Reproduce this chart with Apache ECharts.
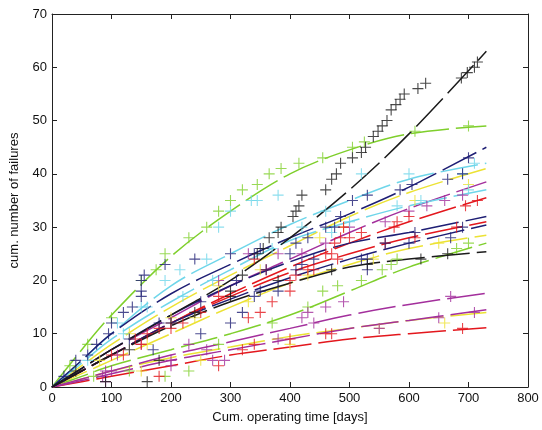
<!DOCTYPE html>
<html>
<head>
<meta charset="utf-8">
<script src="https://cdn.jsdelivr.net/npm/echarts@6/dist/echarts.min.js"></script>
<style>
  html, body { margin: 0; padding: 0; background: #fff; }
  #chart { width: 542px; height: 430px; }
</style>
</head>
<body>
<div id="chart"></div>
<script>
// Cumulative failures per unit vs. cumulative operating time, with fitted growth curves.
const fitDays = [0, 50, 100, 200, 300, 400, 500, 600, 730];

const xTicks = [0, 100, 200, 300, 400, 500, 600, 700, 800];
const yTicks = [0, 10, 20, 30, 40, 50, 60, 70];

// Fitted curves (values at fitDays)
const fitBlackA   = [0, 3.5, 7, 13.5, 20, 28, 37, 47.5, 63];
const fitGreenA   = [0, 7, 13.5, 24.5, 33, 40, 44.5, 47.5, 49];
const fitNavyA    = [0, 5, 10, 17.5, 23, 28, 32.5, 37.5, 45];
const fitCyanA    = [0, 5, 10, 19, 25, 30.5, 35, 39, 42];
const fitYellowA  = [0, 4, 8, 15, 21, 26.5, 32, 36.5, 41];
const fitMagentaA = [0, 3.5, 7, 13, 19, 24, 29, 33.5, 38.5];
const fitCyanB    = [0, 4.5, 9, 16, 22, 27.5, 31, 34, 37];
const fitRedA     = [0, 3, 6, 12, 17.5, 22.5, 27, 31, 35.5];
const fitNavyB    = [0, 3.5, 7, 13.5, 19, 23.5, 27, 29, 32];
const fitRedB     = [0, 3, 6, 12, 17, 21.5, 25, 28, 31];
const fitNavyC    = [0, 3, 6, 12, 16.5, 20.5, 24, 27, 30.4];
const fitYellowB  = [0, 2.5, 5, 10, 15, 19.5, 23, 26, 28.5];
const fitGreenB   = [0, 2, 4, 7, 10, 13.5, 18, 22.5, 27];
const fitBlackB   = [0, 3, 6, 11.5, 16, 19.5, 22.5, 24, 25.4];
const fitMagentaB = [0, 1.5, 3, 6, 8.5, 11, 13.5, 15.5, 17.6];
const fitMagentaC = [0, 1.2, 2.5, 5, 7, 9, 11, 12.5, 14.5];
const fitYellowC  = [0, 1.5, 3, 5.5, 7.5, 9.5, 11, 12.5, 14];
const fitRedC     = [0, 1, 2, 4, 6, 7.5, 9, 10, 11.1];

// Observed failures: [cum. days, cum. failures]
const obsBlackA = [[300,18],[320,21],[345,25],[355,26],[365,28],[380,29],[385,30],[405,32],[410,33],[415,34],[420,36],
  [460,37],[470,39],[478,40],[485,42],[505,43],[520,44],[527,45],[540,47],[548,48],[555,49],[563,50],[570,52],
  [578,53],[585,54],[592,55],[615,56],[628,57],[688,58],[698,59],[710,60],[715,61]];
const obsGreenA = [[30,4],[60,8],[100,13],[150,20],[175,22],[190,25],[230,28],[260,30],[280,33],[300,35],[320,37],
  [345,38],[365,40],[385,41],[415,42],[455,43],[505,45],[525,46],[610,48],[700,49]];
const obsNavyA = [[20,2],[40,5],[75,8],[95,10],[100,12],[120,14],[135,15],[150,17],[150,18],[150,20],[155,21],[190,23],
  [240,24],[300,25],[340,25],[350,26],[400,25],[410,27],[430,28],[460,30],[475,30],[485,32],[505,35],[530,36],
  [585,37],[605,38],[665,39],[690,40],[700,43]];
const obsCyanA = [[110,12],[150,15],[190,20],[215,22],[260,24],[280,30],[300,33],[335,35],[345,35],[380,36],
  [420,30],[460,33],[520,40],[600,40],[690,40],[710,42]];
const obsYellowA = [[130,10],[200,13],[280,19],[350,22],[450,28],[490,30],[610,35],[700,38]];
const obsMagentaA = [[90,3],[110,6],[150,8],[200,12],[230,8],[280,20],[330,25],[380,25],[420,25],[460,27],[500,30],
  [560,31],[600,33],[630,34],[660,35],[690,36]];
const obsCyanB = [[60,5],[120,10],[160,15],[220,17],[270,20],[370,26],[470,29],[500,31],[580,34],[620,35],[700,37]];
const obsRedA = [[120,6],[150,8],[160,10],[180,11],[220,12],[250,14],[280,17],[340,24],[360,22],[400,20],[410,21],
  [430,22],[460,25],[475,27],[485,28],[490,30],[500,28],[520,29],[575,30],[580,31],[600,32],[695,34],[715,35]];
const obsNavyB = [[60,6],[130,9],[180,12],[250,16],[310,20],[360,22],[420,23],[520,24],[530,24],[560,27],[610,29],[690,30]];
const obsRedB = [[100,6],[140,9],[200,11],[330,13],[350,14],[370,16],[400,18],[440,22],[470,25],[480,24],[560,27],[610,28],[680,30]];
const obsNavyC = [[170,7],[250,10],[300,12],[320,14],[340,17],[350,18],[380,18],[410,22],[440,24],[530,22],[600,27],[670,28]];
const obsYellowB = [[80,5],[160,8],[240,13],[330,16],[430,21],[540,24],[650,27]];
const obsGreenB = [[70,2],[130,3],[190,2],[230,3],[280,8],[370,12],[430,15],[455,18],[480,19],[520,20],[555,22],
  [570,23],[580,24],[680,26],[700,27]];
const obsBlackB = [[40,3],[90,1],[130,7],[160,1],[180,5],[200,12],[240,14],[300,17],[380,20],[470,22],[530,23],[620,24],[665,25]];
const obsMagentaB = [[85,2],[90,1],[100,3],[200,5],[260,7],[380,9],[420,13],[430,14],[440,12],[460,15],[490,16],[670,17]];
const obsMagentaC = [[200,4],[270,5],[290,5],[550,11],[650,13],[710,14]];
const obsYellowC = [[150,3],[250,5],[400,8],[550,11],[660,12]];
const obsRedC = [[180,2],[280,4],[320,7],[340,8],[400,9],[460,10],[470,10],[690,11]];

const C = {
  navy: '#1e1e74', green: '#7fcf2c', red: '#e3171d', cyan: '#6fd6ea',
  magenta: '#a32f9c', yellow: '#ece234', black: '#1b1b1b'
};

const groups = [
  [C.green, fitGreenA, obsGreenA],
  [C.cyan, fitCyanA, obsCyanA],
  [C.yellow, fitYellowA, obsYellowA],
  [C.magenta, fitMagentaA, obsMagentaA],
  [C.cyan, fitCyanB, obsCyanB],
  [C.yellow, fitYellowB, obsYellowB],
  [C.green, fitGreenB, obsGreenB],
  [C.yellow, fitYellowC, obsYellowC],
  [C.red, fitRedA, obsRedA],
  [C.red, fitRedB, obsRedB],
  [C.red, fitRedC, obsRedC],
  [C.magenta, fitMagentaB, obsMagentaB],
  [C.magenta, fitMagentaC, obsMagentaC],
  [C.navy, fitNavyA, obsNavyA],
  [C.navy, fitNavyB, obsNavyB],
  [C.navy, fitNavyC, obsNavyC],
  [C.black, fitBlackB, obsBlackB],
  [C.black, fitBlackA, obsBlackA]
];

const plus = 'path://M-1,-10L1,-10L1,-1L10,-1L10,1L1,1L1,10L-1,10L-1,1L-10,1L-10,-1L-1,-1Z';

const series = [];
groups.forEach(([color, fit, obs]) => {
  series.push({
    type: 'line',
    data: fitDays.map((d, i) => [d, fit[i]]),
    smooth: 0.35,
    showSymbol: false,
    silent: true,
    z: 2,
    lineStyle: { color: color, width: 1.5, type: [38, 7] }
  });
  series.push({
    type: 'scatter',
    data: obs,
    symbol: plus,
    symbolSize: 11,
    silent: true,
    z: 3,
    itemStyle: { color: color }
  });
});

const axisFont = { fontFamily: 'Liberation Sans, Arial, sans-serif', fontSize: 13, color: '#111' };
const frameLine = { show: true, onZero: false, lineStyle: { color: '#222', width: 1 } };
const inTick = { show: true, inside: true, length: 5, lineStyle: { color: '#222' } };

const chart = echarts.init(document.getElementById('chart'), null, { renderer: 'canvas' });
chart.setOption({
  animation: false,
  backgroundColor: '#fff',
  grid: { left: 48, right: 14, top: 14, bottom: 43 },
  xAxis: [{
    type: 'value', min: xTicks[0], max: xTicks[xTicks.length - 1], interval: 100,
    name: 'Cum. operating time [days]', nameLocation: 'middle', nameGap: 24,
    nameTextStyle: axisFont,
    axisLine: frameLine, axisTick: inTick,
    axisLabel: Object.assign({ margin: 5 }, axisFont),
    splitLine: { show: false }
  }, {
    type: 'value', position: 'top', min: xTicks[0], max: xTicks[xTicks.length - 1], interval: 100,
    axisLine: frameLine, axisTick: inTick,
    axisLabel: { show: false }, splitLine: { show: false }
  }],
  yAxis: [{
    type: 'value', min: yTicks[0], max: yTicks[yTicks.length - 1], interval: 10,
    name: 'cum. number of failures', nameLocation: 'middle', nameGap: 31,
    nameTextStyle: axisFont,
    axisLine: frameLine, axisTick: inTick,
    axisLabel: Object.assign({ margin: 5 }, axisFont),
    splitLine: { show: false }
  }, {
    type: 'value', position: 'right', min: yTicks[0], max: yTicks[yTicks.length - 1], interval: 10,
    axisLine: frameLine, axisTick: inTick,
    axisLabel: { show: false }, splitLine: { show: false }
  }],
  series: series
});
</script>
</body>
</html>
